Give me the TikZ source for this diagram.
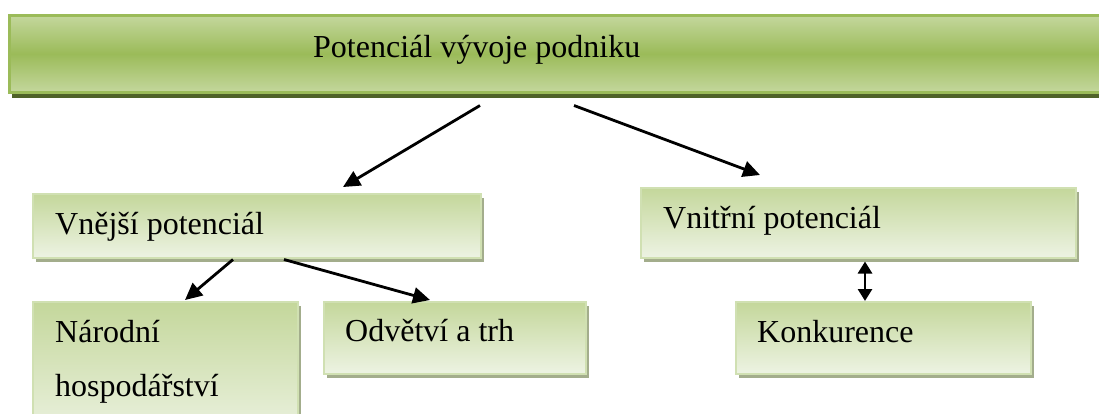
\documentclass[tikz,border=0pt]{standalone}
\usepackage{fontspec}
\setmainfont{Liberation Serif}
\usetikzlibrary{arrows.meta,shadows}
\definecolor{bargreen}{RGB}{155,187,89}
\definecolor{barlight}{RGB}{196,215,157}
\definecolor{bardark}{RGB}{79,98,40}
\definecolor{boxtop}{RGB}{196,215,155}
\definecolor{boxbot}{RGB}{237,243,227}
\definecolor{boxline}{RGB}{208,224,178}
\definecolor{boxshadow}{RGB}{163,173,140}
\begin{document}
\begin{tikzpicture}[x=1pt,y=-1pt,
  txt/.style={anchor=base west,inner sep=0pt,font=\fontsize{32}{32}\selectfont},
  bar/.style={draw=bargreen,line width=2.5pt,top color=barlight,bottom color=barlight,middle color=bargreen,anchor=north west,inner sep=0pt,
    drop shadow={shadow xshift=3pt,shadow yshift=-6pt,fill=bardark,opacity=1}},
  box/.style={draw=boxline,line width=1.5pt,top color=boxtop,bottom color=boxbot,anchor=north west,inner sep=0pt,
    drop shadow={shadow xshift=3pt,shadow yshift=-4pt,fill=boxshadow,opacity=1}},
  arr/.style={line width=2.8pt,-{Triangle[length=17pt,width=16pt]}},
  darr/.style={line width=2.8pt,{Triangle[length=12pt,width=14pt]}-{Triangle[length=12pt,width=14pt]}}]
\useasboundingbox (0,0) rectangle (1099,413);
\clip (0,0) rectangle (1099,413);
\node[bar,minimum width=1120pt,minimum height=77pt] (top) at (8,14) {};
\node[box,minimum width=448pt,minimum height=64pt] (vne) at (32,193) {};
\node[box,minimum width=435pt,minimum height=70pt] (vni) at (640,187) {};
\node[box,minimum width=265pt,minimum height=140pt] (nar) at (32,301) {};
\node[box,minimum width=262pt,minimum height=72pt] (odv) at (323,301) {};
\node[box,minimum width=295pt,minimum height=72pt] (kon) at (735,301) {};
\node[txt] (ttop) at (313,57) {Potenciál vývoje podniku};
\node[txt] (tvne) at (55,234) {Vnější potenciál};
\node[txt] (tvni) at (663,228) {Vnitřní potenciál};
\node[txt] (tnar1) at (55,342) {Národní};
\node[txt] (tnar2) at (55,396) {hospodářství};
\node[txt] (todv) at (345,341) {Odvětví a trh};
\node[txt] (tkon) at (757,342) {Konkurence};
\draw[arr] ([shift={(472pt,-12pt)}]top.south west) -- ([shift={(311pt,6pt)}]vne.north west);
\draw[arr] ([shift={(566pt,-12pt)}]top.south west) -- ([shift={(120pt,12pt)}]vni.north west);
\draw[arr] ([shift={(201pt,-1pt)}]vne.south west) -- ([shift={(153pt,1pt)}]nar.north west);
\draw[arr] ([shift={(252pt,-1pt)}]vne.south west) -- ([shift={(107pt,1pt)}]odv.north west);
\draw[darr] ([shift={(225pt,-3pt)}]vni.south west) -- ([shift={(130pt,0pt)}]kon.north west);
\end{tikzpicture}
\end{document}
